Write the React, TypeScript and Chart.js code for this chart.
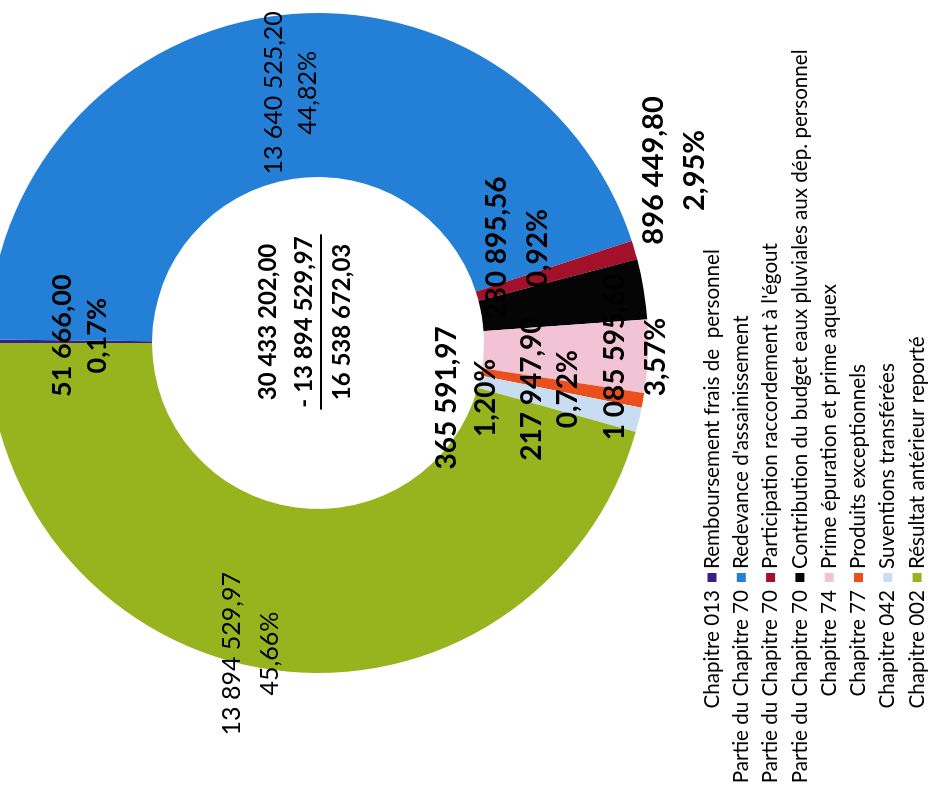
import React, { useEffect, useRef } from "react";
import { Chart, registerables } from "chart.js";

Chart.register(...registerables);

// ---- data ----
const chapters = [
  "Chapitre 013",
  "Partie du Chapitre 70",
  "Partie du Chapitre 70",
  "Partie du Chapitre 70",
  "Chapitre 74",
  "Chapitre 77",
  "Chapitre 042",
  "Chapitre 002",
];
const categories = [
  "Remboursement frais de  personnel",
  "Redevance d'assainissement",
  "Participation raccordement à l'égout",
  "Contribution du budget eaux pluviales aux dép. personnel",
  "Prime épuration et prime aquex",
  "Produits exceptionnels",
  "Suventions transférées",
  "Résultat antérieur reporté",
];
const values = [
  51666.0, 13640525.2, 280895.56, 896449.8, 1085595.6, 217947.9, 365591.97, 13894529.97,
];
const colors = [
  "#3a1f8c",
  "#2380d6",
  "#a3102a",
  "#050505",
  "#f2c2d5",
  "#e9501c",
  "#c8dcf2",
  "#97b41f",
];

// ---- layout / style (not data) ----
const FONT = "Lato, 'Open Sans', sans-serif";
const labelOffsets: [number, number][] = [
  [6, 10],
  [5, 10],
  [25, -38],
  [132, 111],
  [-4, 70],
  [-3, -12],
  [3, -93],
  [-65, -33],
];
const labelStyles = [
  { size: 27, bold: true, gap: 35 },
  { size: 25, bold: false, gap: 34 },
  { size: 28, bold: true, gap: 41 },
  { size: 29, bold: true, gap: 41 },
  { size: 28, bold: true, gap: 41 },
  { size: 28, bold: true, gap: 36 },
  { size: 28, bold: true, gap: 39 },
  { size: 25, bold: false, gap: 38 },
];

function fmt(v: number): string {
  const s = v.toFixed(2);
  const [intPart, frac] = s.split(".");
  const grouped = intPart.replace(/\B(?=(\d{3})+(?!\d))/g, " ");
  return grouped + "," + frac;
}
function pct(v: number, total: number): string {
  return ((v / total) * 100).toFixed(2).replace(".", ",") + "%";
}

const W = 789; // upright width
const H = 948; // upright canvas height

const labelPlugin = {
  id: "customLabels",
  afterDatasetsDraw(chart: any) {
    const ctx: CanvasRenderingContext2D = chart.ctx;
    const meta = chart.getDatasetMeta(0);
    const total = values.reduce((a, b) => a + b, 0);
    ctx.save();
    ctx.fillStyle = "#000";
    ctx.textAlign = "center";
    ctx.textBaseline = "middle";
    meta.data.forEach((arc: any, i: number) => {
      const p = arc.getCenterPoint(false);
      const [dx, dy] = labelOffsets[i];
      const st = labelStyles[i];
      ctx.font = `${st.bold ? "bold " : ""}${st.size}px ${FONT}`;
      const x = p.x + dx;
      const y = p.y + dy;
      ctx.fillText(fmt(values[i]), x, y - st.gap / 2);
      ctx.fillText(pct(values[i], total), x, y + st.gap / 2);
    });

    // centre computation text
    const a0 = meta.data[0];
    const cx = a0.x + 21;
    const cy = a0.y;
    const last = values[values.length - 1];
    const lines = [fmt(total), "- " + fmt(last), fmt(total - last)];
    ctx.font = `bold 24px ${FONT}`;
    ctx.fillText(lines[0], cx, cy - 50);
    ctx.fillText(lines[1], cx, cy - 14);
    ctx.fillText(lines[2], cx, cy + 24);
    const w = ctx.measureText(lines[1]).width;
    ctx.strokeStyle = "#000";
    ctx.lineWidth = 2;
    ctx.beginPath();
    ctx.moveTo(cx - w / 2 - 2, cy + 3);
    ctx.lineTo(cx + w / 2 + 2, cy + 3);
    ctx.stroke();

    // legend
    const rowTop = 725;
    const rowStep = 29.3;
    ctx.font = `20.6px ${FONT}`;
    categories.forEach((name, i) => {
      const y = rowTop + rowStep * i;
      ctx.fillStyle = "#000";
      ctx.textAlign = "right";
      ctx.fillText(chapters[i], 199, y);
      ctx.fillStyle = colors[i];
      ctx.fillRect(207, y - 4.5, 9, 9);
      ctx.fillStyle = "#000";
      ctx.textAlign = "left";
      ctx.fillText(name, 220, y);
    });
    ctx.restore();
  },
};

export default function App() {
  const ref = useRef<HTMLCanvasElement | null>(null);
  useEffect(() => {
    if (!ref.current) return;
    const chart = new Chart(ref.current, {
      type: "doughnut",
      data: {
        labels: categories,
        datasets: [
          {
            data: values,
            backgroundColor: colors,
            borderWidth: 0,
          },
        ],
      },
      options: {
        responsive: false,
        animation: false,
        devicePixelRatio: 1,
        cutout: "50.3%",
        layout: { padding: { left: 116, right: 13, top: 1, bottom: 287 } },
        plugins: {
          legend: { display: false },
          tooltip: { enabled: false },
        },
      },
      plugins: [labelPlugin],
    });
    return () => chart.destroy();
  }, []);

  return (
    <div
      style={{
        position: "absolute",
        left: 0,
        top: 0,
        width: 935,
        height: 789,
        overflow: "hidden",
        background: "#fff",
      }}
    >
      <div
        style={{
          position: "absolute",
          left: 0,
          top: 0,
          width: W,
          height: 935,
          transformOrigin: "0 0",
          transform: "translateY(789px) rotate(-90deg)",
        }}
      >
        <canvas
          ref={ref}
          width={W}
          height={H}
          style={{ position: "absolute", left: 0, top: -13, width: W, height: H }}
        />
      </div>
    </div>
  );
}
